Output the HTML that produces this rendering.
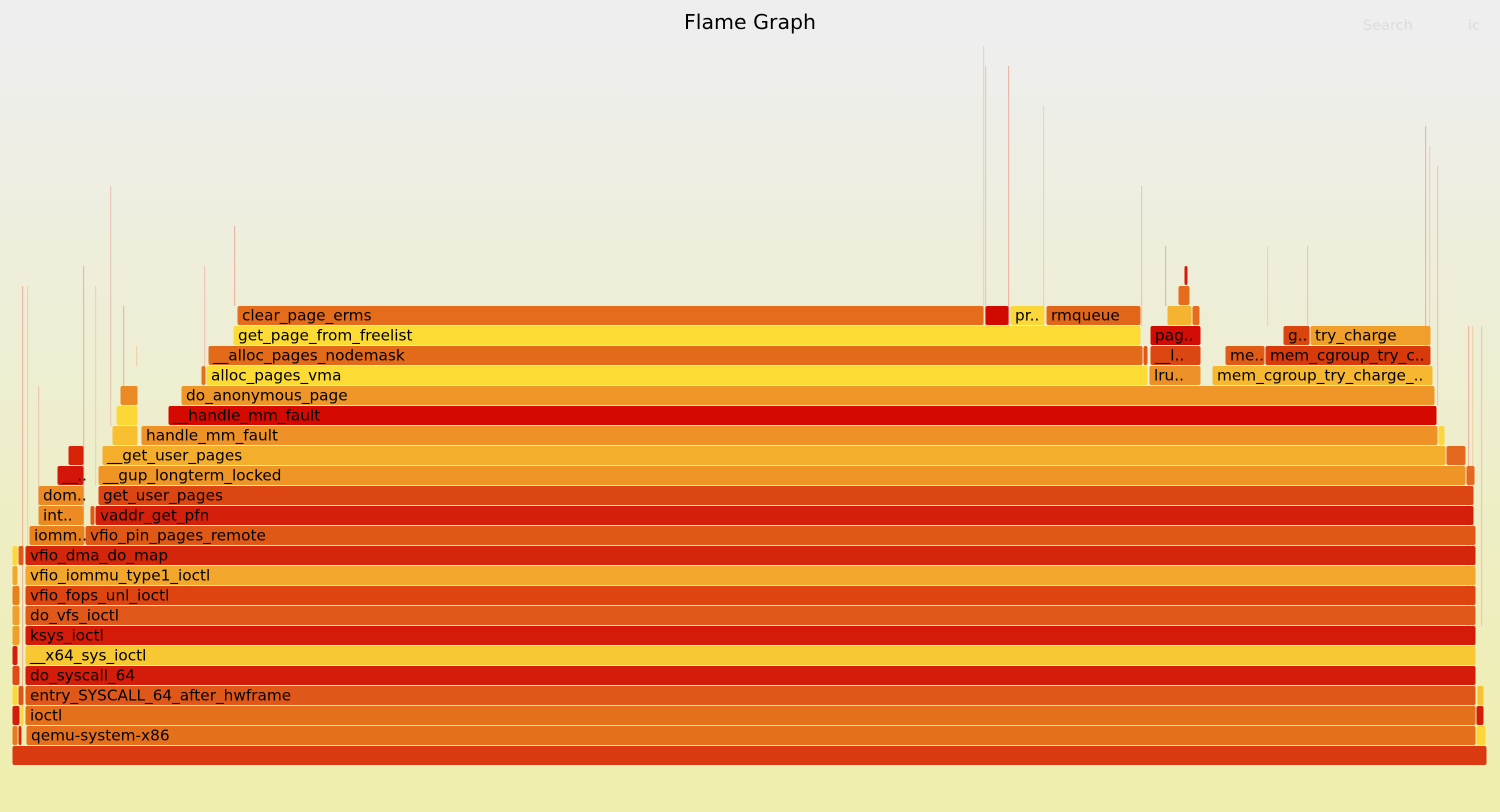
<!DOCTYPE html>
<html><head><meta charset="utf-8">
<style>
html,body{margin:0;padding:0;width:1500px;height:812px;overflow:hidden}
svg{display:block}
text{font-family:"DejaVu Sans","Liberation Sans",sans-serif}
</style></head>
<body>
<svg id="fg" width="1500" height="812" viewBox="0 0 1500 812">
<defs><linearGradient id="bg" x1="0" y1="0" x2="0" y2="1"><stop offset="5%" stop-color="#eeeeee"/><stop offset="95%" stop-color="#eeeeb0"/></linearGradient></defs>
<rect x="0" y="0" width="1500" height="812" fill="url(#bg)"/>
<text x="750" y="29" text-anchor="middle" font-size="20.5" fill="#000">Flame Graph</text>
<text x="1363" y="30" font-size="14.5" fill="#dcdcdc">Search</text>
<text x="1468" y="30" font-size="14.5" fill="#dcdcdc">ic</text>
<g id="frames"></g>
</svg>
<script>
const names=["","","","qemu-system-x86","","","","ioctl","","","","entry_SYSCALL_64_after_hwframe","","","do_syscall_64","","__x64_sys_ioctl","","ksys_ioctl","","do_vfs_ioctl","","vfio_fops_unl_ioctl","","vfio_iommu_type1_ioctl","","vfio_dma_do_map","","iomm..","vfio_pin_pages_remote","int..","","vaddr_get_pfn","dom..","get_user_pages","__..","__gup_longterm_locked","","","__get_user_pages","","","handle_mm_fault","","","__handle_mm_fault","","do_anonymous_page","","alloc_pages_vma","lru..","mem_cgroup_try_charge_..","__alloc_pages_nodemask","","__l..","me..","mem_cgroup_try_c..","get_page_from_freelist","pag..","g..","try_charge","clear_page_erms","","pr..","rmqueue","","","","",""];
const starts=[12,12,18,26,1476,12,20,25,1476,12,18,25,1477,12,25,12,25,12,25,12,25,12,25,12,25,12,25,18,29,85,38,90,95,38,98,57,98,1466,68,102,1446,112,141,1438,116,168,120,181,201,206,1149,1212,208,1143,1150,1225,1265,233,1150,1283,1310,237,985,1010,1046,1167,1192,1178,1184];
const ends=[1487,18,22,1476,1486,20,24,1476,1484,18,24,1476,1484,20,1476,18,1476,20,1476,20,1476,20,1476,18,1476,18,1476,24,85,1476,84,95,1474,84,1474,84,1466,1475,84,1446,1466,138,1438,1445,138,1437,138,1435,206,1148,1201,1433,1143,1148,1201,1265,1431,1141,1201,1310,1431,984,1009,1045,1141,1192,1200,1190,1188];
const depths=[0,1,1,1,1,2,2,2,2,3,3,3,3,4,4,5,5,6,6,7,7,8,8,9,9,10,10,10,11,11,12,12,12,13,13,14,14,14,15,15,15,16,16,16,17,17,18,18,19,19,19,19,20,20,20,20,20,21,21,21,21,22,22,22,22,22,22,23,24];
const colors=["#d93a10","#e67a20","#d42a0c","#e5701c","#fcd63a","#d41c0a","#fad83a","#e5701c","#d41c0a","#fad83a","#e0561a","#e0571a","#f6c232","#e04a18","#d41c0a","#d41c0a","#f8c832","#f0a02a","#d41a08","#f0a02a","#e0581a","#e8801e","#de4410","#f2a62c","#f2a62c","#fcd63a","#d4260a","#e0581a","#e8801e","#e05816","#ec8a24","#e05a16","#d4200a","#ec8a24","#dc4612","#d4160a","#ee9526","#e56820","#d82208","#f4ae2c","#e56820","#f8c030","#ee9228","#fcd63a","#fcd837","#d40a00","#ea8a24","#ee9628","#e5701c","#fcdc34","#ec9028","#f6b830","#e26a18","#e0581a","#dc4612","#e05c16","#d83a0c","#fcdc34","#d10c04","#d8460e","#f0a02a","#e56c1a","#d00a00","#fad83a","#e2661a","#f4b430","#e56c1a","#e56c1a","#d41a08"];
const spikeX=[22,27,38,83,95,110,123,136,204,234,983,985,1008,1043,1141,1165,1267,1307,1425,1429,1437,1468,1472,1481];
const spikeTop=[286,286,386,266,286,186,306,346,266,226,46,66,66,106,186,246,246,246,126,146,166,326,326,326];
const spikeDepth=[1,1,12,11,13,16,17,19,19,22,21,21,21,21,21,22,21,21,20,20,17,6,6,6];
const x0=12,x1=1487,bottomY=746,rowH=20;
const sx=v=>x0+(v-x0)*(x1-x0)/1475, sy=d=>bottomY-d*rowH;
const g=document.getElementById('frames'),NS="http://www.w3.org/2000/svg";
for(let i=0;i<spikeX.length;i++){
  const r=document.createElementNS(NS,'rect');
  
  
  const yb=sy(spikeDepth[i]);
  r.setAttribute('x',sx(spikeX[i]));r.setAttribute('width',1.2);
  r.setAttribute('y',spikeTop[i]);r.setAttribute('height',Math.max(0,yb-spikeTop[i]));
  r.setAttribute('fill',i%3==0?'#e8a090':(i%3==1?'#f0c8a0':'#e8b8a8'));r.setAttribute('opacity','0.7');
  g.appendChild(r);
}
for(let i=0;i<names.length;i++){
  const a=sx(starts[i]),w=sx(ends[i])-a,y=sy(depths[i]);
  const r=document.createElementNS(NS,'rect');
  
  
  r.setAttribute('x',a+0.5);r.setAttribute('y',y);r.setAttribute('width',Math.max(1,w-1));r.setAttribute('height',19);
  r.setAttribute('rx',2);r.setAttribute('fill',colors[i]);
  g.appendChild(r);
  if(names[i]){
    const t=document.createElementNS(NS,'text');
    
    
    t.setAttribute('x',a+5);t.setAttribute('y',y+14.5);t.setAttribute('font-size','15.3');t.setAttribute('fill','#000');
    t.textContent=names[i];g.appendChild(t);
  }
}
</script>
</body></html>
